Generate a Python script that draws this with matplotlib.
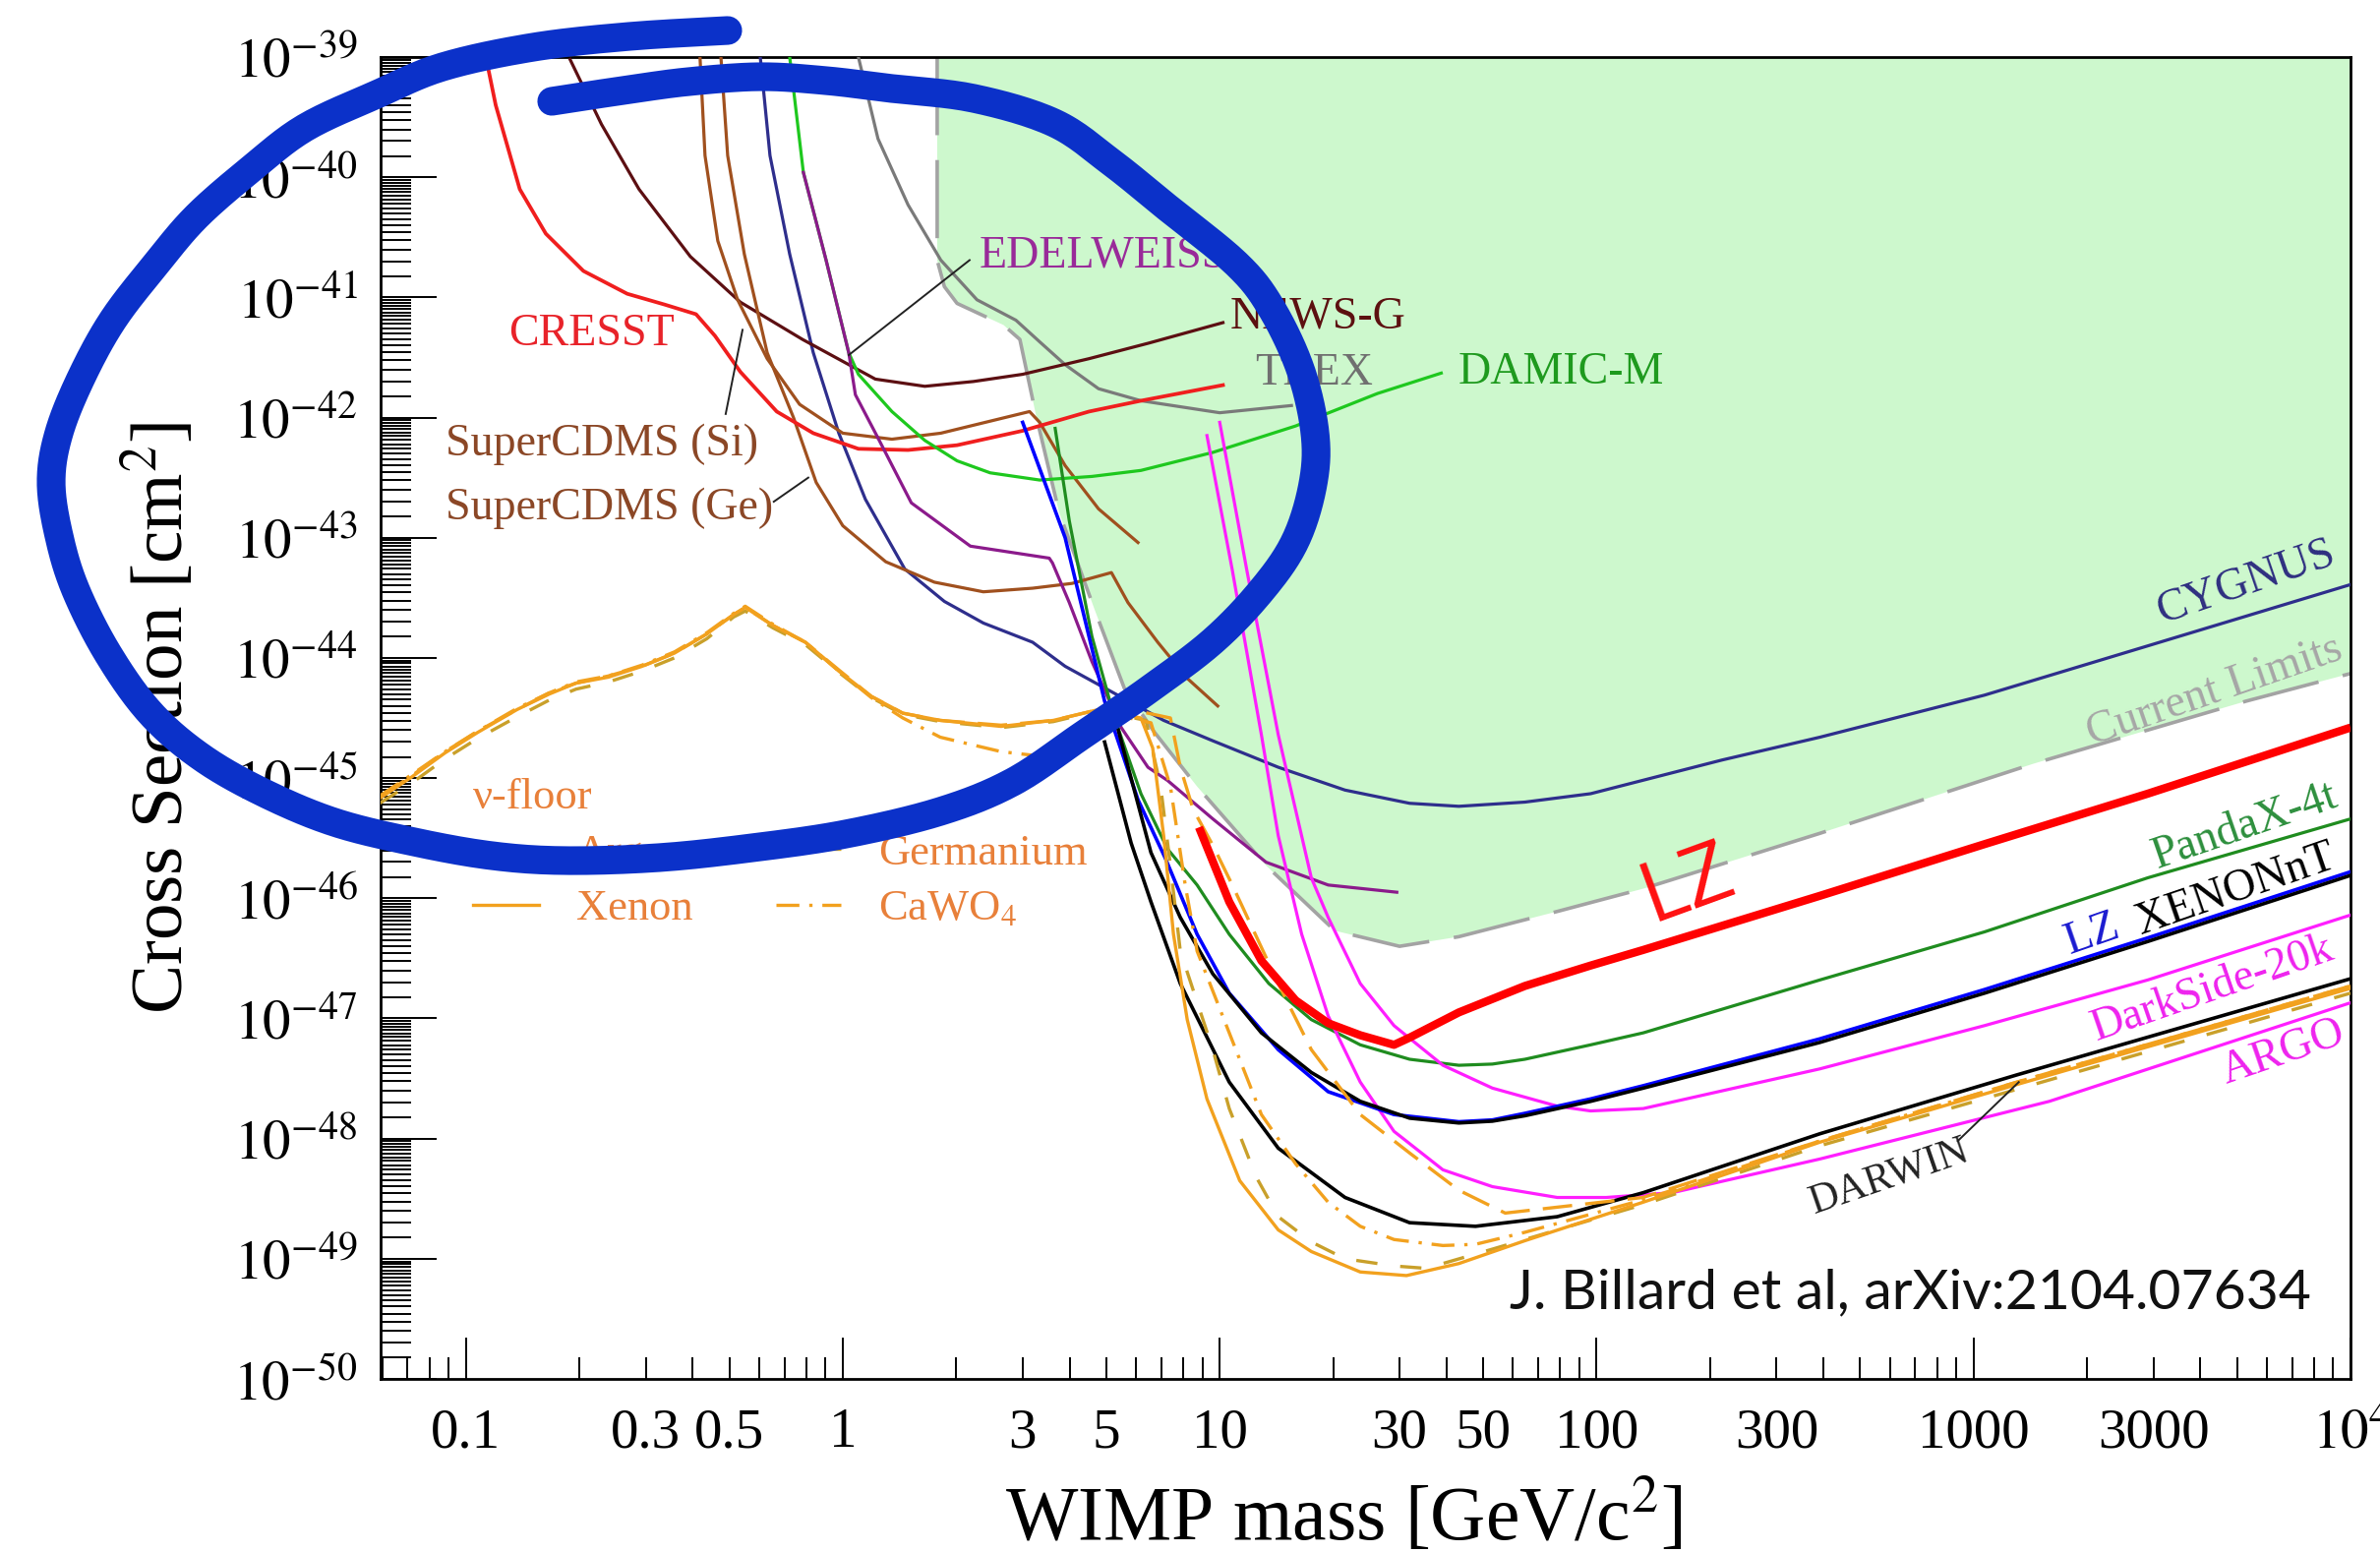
import numpy as np
import matplotlib
matplotlib.use("Agg")
import matplotlib.pyplot as plt
from matplotlib.ticker import FixedLocator, FuncFormatter, NullFormatter

plt.rcParams['font.family'] = ['Liberation Serif', 'DejaVu Serif']
plt.rcParams['mathtext.fontset'] = 'stix'

# ---------------- data: WIMP mass [GeV/c^2], log10(cross section [cm^2]) ----------------
current_m = [1.78, 1.78, 1.86, 2.01, 2.67, 2.95, 3.25, 3.75, 4.66, 5.58, 6.68, 8.71, 13.3, 20.2, 30.0, 43.1, 78.6, 133, 391, 1443, 5284, 10000]
current_ls = [-39.0, -40.69, -40.91, -41.05, -41.23, -41.35, -41.97, -42.79, -43.60, -44.25, -44.61, -45.07, -45.73, -46.27, -46.40, -46.32, -46.11, -45.92, -45.46, -44.88, -44.36, -44.13]

cresst_m = [0.113, 0.120, 0.139, 0.163, 0.205, 0.268, 0.337, 0.408, 0.458, 0.535, 0.668, 0.835, 1.10, 1.49, 2.01, 3.00, 4.50, 6.18, 10.2]
cresst_ls = [-39.0, -39.40, -40.10, -40.47, -40.78, -40.97, -41.06, -41.14, -41.32, -41.62, -41.95, -42.13, -42.26, -42.27, -42.23, -42.11, -41.95, -41.86, -41.73]

newsg_m = [0.189, 0.229, 0.288, 0.394, 0.535, 0.782, 1.22, 1.65, 2.22, 3.00, 4.50, 6.49, 10.2]
newsg_ls = [-39.02, -39.56, -40.10, -40.66, -41.04, -41.35, -41.68, -41.74, -41.70, -41.64, -41.51, -41.38, -41.21]

cdms_si_m = [0.418, 0.431, 0.466, 0.526, 0.630, 0.768, 1.00, 1.35, 1.82, 2.46, 3.13, 3.33, 3.89, 4.77, 6.07]
cdms_si_ls = [-39.0, -39.82, -40.53, -41.02, -41.51, -41.89, -42.13, -42.18, -42.13, -42.03, -41.95, -42.04, -42.40, -42.76, -43.04]

cdms_ge_m = [0.475, 0.495, 0.548, 0.630, 0.740, 0.850, 1.00, 1.30, 1.75, 2.36, 3.19, 4.06, 5.16, 5.71, 6.85, 8.20, 9.88]
cdms_ge_ls = [-39.0, -39.82, -40.64, -41.46, -42.00, -42.54, -42.90, -43.20, -43.37, -43.45, -43.42, -43.38, -43.29, -43.54, -43.87, -44.17, -44.40]

cygnus_m = [0.604, 0.641, 0.723, 0.835, 0.976, 1.148, 1.46, 1.86, 2.36, 3.19, 3.89, 4.95, 7.10, 9.59, 14.3, 21.5, 31.9, 43.1, 64.5, 96.4, 215, 391, 1069, 2898, 10000]
cygnus_ls = [-39.0, -39.82, -40.64, -41.46, -42.13, -42.68, -43.26, -43.53, -43.71, -43.87, -44.07, -44.25, -44.52, -44.69, -44.91, -45.10, -45.21, -45.235, -45.20, -45.13, -44.85, -44.66, -44.31, -43.90, -43.39]

edelweiss_m = [0.786, 0.903, 1.037, 1.08, 1.24, 1.52, 2.18, 3.53, 3.60, 3.99, 4.58, 5.48, 6.45, 7.27, 9.59, 13.27, 19.4, 29.5]
edelweiss_ls = [-39.96, -40.69, -41.46, -41.81, -42.17, -42.71, -43.07, -43.17, -43.21, -43.54, -44.03, -44.58, -44.91, -45.02, -45.34, -45.70, -45.89, -45.95]

damic_m = [0.723, 0.786, 0.903, 1.037, 1.10, 1.35, 1.65, 2.01, 2.46, 3.33, 4.58, 6.18, 9.59, 15.9, 26.2, 38.7]
damic_ls = [-39.0, -39.96, -40.69, -41.46, -41.64, -41.95, -42.19, -42.36, -42.46, -42.52, -42.49, -42.44, -42.29, -42.07, -41.80, -41.63]

trex_m = [1.10, 1.24, 1.49, 1.82, 2.27, 2.88, 3.33, 3.89, 4.77, 6.18, 10.0, 15.5]
trex_ls = [-39.0, -39.68, -40.23, -40.69, -41.02, -41.19, -41.37, -41.56, -41.76, -41.86, -41.96, -41.90]

lzproj_m = [3.00, 3.89, 4.95, 6.07, 7.18, 8.71, 10.6, 14.3, 19.4, 29.0, 43.1, 52.9, 64.5, 96.4, 133, 391, 1069, 2898, 10000]
lzproj_ls = [-42.04, -43.00, -44.36, -45.18, -45.67, -46.30, -46.79, -47.26, -47.61, -47.80, -47.86, -47.845, -47.79, -47.67, -47.56, -47.17, -46.76, -46.33, -45.78]

xenonnt_m = [5.38, 6.57, 7.86, 9.59, 12.9, 17.5, 23.6, 31.9, 43.1, 52.9, 64.5, 96.4, 133, 391, 1069, 2898, 10000]
xenonnt_ls = [-44.60, -45.62, -46.16, -46.63, -47.12, -47.45, -47.69, -47.83, -47.87, -47.855, -47.81, -47.69, -47.58, -47.20, -46.79, -46.36, -45.81]

darwin_m = [4.95, 5.82, 6.57, 7.86, 10.6, 14.3, 21.5, 31.9, 47.7, 78.6, 133, 391, 1303, 10000]
darwin_ls = [-44.70, -45.54, -46.03, -46.71, -47.53, -48.08, -48.49, -48.70, -48.73, -48.65, -48.45, -47.96, -47.47, -46.67]

pandax_m = [3.66, 3.99, 4.58, 5.26, 6.18, 7.27, 8.71, 10.6, 13.5, 17.5, 23.6, 31.9, 43.1, 52.9, 64.5, 96.4, 133, 391, 1069, 2898, 10000]
pandax_ls = [-42.09, -42.86, -43.82, -44.50, -45.13, -45.59, -45.89, -46.30, -46.71, -47.01, -47.22, -47.34, -47.39, -47.38, -47.34, -47.22, -47.12, -46.68, -46.28, -45.83, -45.34]

darkside_m = [10.0, 11.8, 14.3, 17.5, 19.4, 23.6, 29.0, 39.1, 52.9, 78.6, 96.4, 133, 391, 1069, 2898, 10000]
darkside_ls = [-42.04, -43.27, -44.64, -45.83, -46.16, -46.71, -47.06, -47.39, -47.58, -47.73, -47.77, -47.75, -47.42, -47.06, -46.68, -46.14]

argo_m = [9.25, 10.8, 12.9, 14.3, 16.5, 19.4, 23.6, 29.0, 39.1, 52.9, 78.6, 106, 159, 391, 1589, 10000]
argo_ls = [-42.15, -43.27, -44.64, -45.48, -46.30, -46.98, -47.53, -47.94, -48.26, -48.40, -48.49, -48.49, -48.45, -48.17, -47.69, -46.87]

lz_m = [8.81, 10.6, 12.9, 15.9, 19.4, 23.6, 29.0, 31.9, 43.1, 64.5, 96.4, 133, 391, 1069, 2898, 10000]
lz_ls = [-45.41, -46.03, -46.52, -46.85, -47.04, -47.14, -47.22, -47.16, -46.95, -46.73, -46.56, -46.43, -45.98, -45.55, -45.13, -44.58]

# neutrino floors
floor_low_m = [0.059, 0.0719, 0.0881, 0.1075, 0.1367, 0.1667, 0.196, 0.239, 0.2934, 0.3577, 0.436, 0.513, 0.551, 0.6526, 0.796, 0.976, 1.19, 1.443, 1.814, 2.63, 3.62, 4.77]
xe_m = floor_low_m + [6.18, 6.64, 7.10, 7.54, 8.20, 9.25, 11.3, 14.3, 17.5, 23.6, 31.3, 43.1, 64.5, 132.7, 391, 1303, 10000]
xe_ls = [-45.17, -44.99, -44.79, -44.62, -44.43, -44.30, -44.21, -44.16, -44.07, -43.96, -43.80, -43.64, -43.58, -43.73, -43.87, -44.11, -44.32, -44.46, -44.52, -44.57, -44.52, -44.43,
         -44.50, -44.75, -45.48, -46.30, -47.01, -47.67, -48.35, -48.76, -48.94, -49.11, -49.14, -49.04, -48.85, -48.53, -48.03, -47.55, -46.75]
ge_m = floor_low_m + [6.37, 6.97, 7.40, 7.86, 9.59, 10.6, 12.5, 14.3, 17.5, 21.5, 29.0, 35.3, 52.9, 78.6, 132.7, 391, 1303, 10000]
ge_ls = [-45.21, -45.04, -44.84, -44.67, -44.49, -44.35, -44.26, -44.20, -44.11, -44.00, -43.84, -43.66, -43.61, -43.75, -43.89, -44.12, -44.33, -44.47, -44.53, -44.58, -44.53, -44.44,
         -44.52, -45.07, -45.73, -46.44, -47.26, -47.75, -48.32, -48.65, -48.86, -49.00, -49.06, -49.08, -48.92, -48.76, -48.55, -48.06, -47.59, -46.79]
cawo_m = floor_low_m[:18] + [1.814, 2.63, 3.62, 5.04, 6.57, 7.40, 8.10, 8.71, 10.6, 12.9, 15.9, 19.4, 23.6, 29.0, 39.1, 47.7, 64.5, 132.7, 391, 1303, 10000]
cawo_ls = [-45.15, -44.97, -44.78, -44.61, -44.42, -44.29, -44.20, -44.15, -44.06, -43.95, -43.79, -43.63, -43.57, -43.72, -43.87, -44.11, -44.33, -44.50,
           -44.66, -44.78, -44.83, -44.46, -44.54, -45.07, -45.89, -46.44, -47.12, -47.80, -48.21, -48.53, -48.73, -48.84, -48.89, -48.88, -48.78, -48.51, -48.02, -47.53, -46.73]
ar_m = floor_low_m + [5.82, 7.40, 7.86, 8.50, 9.59, 10.8, 14.3, 17.5, 23.6, 31.9, 43.1, 57.2, 132.7, 391, 1303, 10000]
ar_ls = [-45.16, -44.98, -44.78, -44.61, -44.43, -44.29, -44.21, -44.15, -44.07, -43.96, -43.80, -43.64, -43.58, -43.73, -43.87, -44.10, -44.32, -44.46, -44.52, -44.56, -44.52, -44.43,
         -44.43, -44.50, -44.91, -45.26, -45.56, -45.89, -46.71, -47.26, -47.80, -48.12, -48.43, -48.62, -48.49, -48.02, -47.53, -46.73]

# label pointers (mass, log10 sigma) pairs
ptr_edel = ([2.17, 1.037], [-40.69, -41.48])
ptr_si = ([0.489, 0.542], [-41.97, -41.27])
ptr_ge = ([0.656, 0.810], [-42.70, -42.50])
ptr_darwin = ([908, 1318], [-48.02, -47.53])

xtick_major = [0.1, 1, 10, 100, 1000, 10000]
xtick_labelled = [0.1, 0.3, 0.5, 1, 3, 5, 10, 30, 50, 100, 300, 1000, 3000]
ytick_exp = list(range(-50, -38))


def S(v):
    return 10.0 ** np.asarray(v, dtype=float)


fig = plt.figure(figsize=(24.2, 15.79), dpi=100)
ax = fig.add_axes([387 / 2420, 177 / 1579, 2003 / 2420, 1344 / 1579])
ax.set_xscale('log')
ax.set_yscale('log')
ax.set_xlim(10 ** (-470 / 383.3), 1e4)
ax.set_ylim(1e-50, 1e-39)

# shaded current limits
cm = np.asarray(current_m, float)
cs = S(current_ls)
ax.fill(np.r_[cm, cm[-1], cm[0]], np.r_[cs, 1e-39, 1e-39], color='#cdf8cd', lw=0, zorder=0)
ax.plot(cm, cs, color='#a3a3a3', lw=2.6, dashes=(22, 7), zorder=2)

lw = 2.3
ax.plot(trex_m, S(trex_ls), color='#7a7a7a', lw=lw, zorder=3)
ax.plot(cygnus_m, S(cygnus_ls), color='#2e2e8c', lw=lw, zorder=3)
ax.plot(newsg_m, S(newsg_ls), color='#5c0f12', lw=lw, zorder=3)
ax.plot(cdms_si_m, S(cdms_si_ls), color='#a0501e', lw=lw, zorder=3)
ax.plot(cdms_ge_m, S(cdms_ge_ls), color='#a0501e', lw=lw, zorder=3)
ax.plot(cresst_m, S(cresst_ls), color='#f01e1e', lw=lw + 0.4, zorder=3)
ax.plot(damic_m, S(damic_ls), color='#1ec81e', lw=lw, zorder=3)
ax.plot(edelweiss_m, S(edelweiss_ls), color='#8b1a8b', lw=lw, zorder=3)
ax.plot(pandax_m, S(pandax_ls), color='#1f8c1f', lw=lw, zorder=3)
ax.plot(argo_m, S(argo_ls), color='#ff1eff', lw=lw, zorder=3)
ax.plot(darkside_m, S(darkside_ls), color='#ff1eff', lw=lw, zorder=3)
ax.plot(darwin_m, S(darwin_ls), color='black', lw=lw + 0.3, zorder=3)
ax.plot(lzproj_m, S(lzproj_ls), color='#0000ff', lw=lw + 0.3, zorder=3)
ax.plot(xenonnt_m, S(xenonnt_ls), color='black', lw=lw + 0.3, zorder=3)

orange = '#f2a11e'
h_ar, = ax.plot(ar_m, S(ar_ls), color=orange, lw=2.4, dashes=(9, 4), zorder=4, label='Argon')
h_ge, = ax.plot(ge_m, S(ge_ls), color='#c9a02a', lw=2.4, dashes=(6.5, 7), zorder=4, label='Germanium')
h_ca, = ax.plot(cawo_m, S(cawo_ls), color=orange, lw=2.4, dashes=(7, 3, 1, 3), zorder=4, label='CaWO$_4$')
h_xe, = ax.plot(xe_m, S(xe_ls), color=orange, lw=2.4, zorder=4, label='Xenon')

ax.plot(lz_m, S(lz_ls), color='#ff0000', lw=6.0, zorder=5, solid_capstyle='butt')

# pointers
for px, py in (ptr_edel, ptr_si, ptr_ge, ptr_darwin):
    ax.plot(px, S(py), color='#222222', lw=1.4, zorder=5)

# labels
lab = dict(transform=ax.transAxes, fontsize=33, zorder=6)
ax.text(0.0649, 0.790, 'CRESST', color='#e8232a', ha='left', va='center', **lab)
ax.text(0.033, 0.707, 'SuperCDMS (Si)', color='#8b4726', ha='left', va='center', **lab)
ax.text(0.033, 0.6585, 'SuperCDMS (Ge)', color='#8b4726', ha='left', va='center', **lab)
ax.text(0.304, 0.8497, 'EDELWEISS', color='#992a99', ha='left', va='center', **lab)
ax.text(0.4313, 0.8036, 'NEWS-G', color='#5c1010', ha='left', va='center', **lab)
ax.text(0.4438, 0.7604, 'TREX', color='#707070', ha='left', va='center', **lab)
ax.text(0.5472, 0.761, 'DAMIC-M', color='#1e9a1e', ha='left', va='center', **lab)
rot = dict(ha='center', va='center', rotation=19, rotation_mode='anchor')
ax.text(0.947, 0.602, 'CYGNUS', color='#2e2e80', **rot, **lab)
ax.text(0.931, 0.520, 'Current Limits', color='#a6a6a6', **rot, **lab)
ax.text(0.9466, 0.418, 'PandaX-4t', color='#2d8f3d', **rot, **lab)
ax.text(0.942, 0.370, 'XENONnT', color='black', **rot, **lab)
ax.text(0.869, 0.336, 'LZ', color='#1a1ad0', **rot, **lab)
ax.text(0.930, 0.295, 'DarkSide-20k', color='#ee22ee', **rot, **lab)
ax.text(0.9655, 0.247, 'ARGO', color='#ee22ee', **rot, **lab)
lab2 = dict(lab); lab2['fontsize'] = 30
ax.text(0.766, 0.153, 'DARWIN', color='#222222', **rot, **lab2)

leg = ax.legend(handles=[h_ar, h_xe, h_ge, h_ca], ncol=2, title='\u03bd-floor', loc='upper left',
                bbox_to_anchor=(0.047, 0.4545), frameon=False, fontsize=32, title_fontsize=32,
                handlelength=1.5, handletextpad=0.85, columnspacing=1.9, labelspacing=0.37,
                borderpad=0, borderaxespad=0, alignment='left', labelcolor='#e8803a')
leg.get_title().set_color('#e8803a')
leg.set_zorder(6)

# axes styling
for sp in ax.spines.values():
    sp.set_linewidth(2.0)
ax.xaxis.set_major_locator(FixedLocator(xtick_major))
minor_x = [k * 10.0 ** e for e in range(-2, 4) for k in range(2, 10)]
ax.xaxis.set_minor_locator(FixedLocator(minor_x))


def xfmt(v, pos=None):
    if abs(v - 1e4) < 1:
        return r'$10^{4}$'
    for t in xtick_labelled:
        if abs(v - t) < 1e-6 * t:
            return ('%g' % t)
    return ''


ax.xaxis.set_major_formatter(FuncFormatter(xfmt))
ax.xaxis.set_minor_formatter(FuncFormatter(xfmt))
ax.yaxis.set_major_locator(FixedLocator([10.0 ** e for e in ytick_exp]))
minor_y = [k * 10.0 ** e for e in range(-50, -39) for k in np.arange(1.5, 10, 0.5)]
ax.yaxis.set_minor_locator(FixedLocator(minor_y))
ax.yaxis.set_major_formatter(FuncFormatter(lambda v, p: r'$10^{%d}$' % int(round(np.log10(v)))))
ax.yaxis.set_minor_formatter(NullFormatter())
ax.tick_params(which='both', direction='in', top=False, right=False, width=1.4)
ax.tick_params(axis='x', which='major', length=30, pad=21, labelsize=41)
ax.tick_params(axis='x', which='minor', length=16, pad=21, labelsize=41)
ax.tick_params(axis='y', which='major', length=41, pad=17, labelsize=41)
ax.tick_params(axis='y', which='minor', length=22)

ax.set_xlabel('WIMP mass [GeV/c$^2$]', fontsize=56)
ax.set_ylabel('Cross Section [cm$^2$]', fontsize=54)
ax.xaxis.set_label_coords(0.4888, -0.076)
ax.yaxis.set_label_coords(-0.092, 0.5)

# ---------------- hand-drawn overlay ----------------
ov = fig.add_axes([0, 0, 1, 1], zorder=10)
ov.set_xlim(0, 2420)
ov.set_ylim(1579, 0)
ov.axis('off')
ov.patch.set_alpha(0)

stroke = [(740, 31), (640, 37), (542, 48), (450, 68), (383, 96), (310, 130), (255, 172), (200, 220), (159, 268),
          (115, 325), (83, 383), (60, 440), (52, 490), (60, 545), (77, 600), (110, 665), (153, 725), (205, 770),
          (268, 806), (340, 836), (421, 856), (500, 870), (574, 875), (670, 872), (765, 862), (860, 848),
          (956, 825), (1030, 795), (1100, 748), (1167, 702), (1233, 652), (1283, 600), (1317, 550), (1335, 492),
          (1337, 440), (1322, 375), (1292, 312), (1257, 268), (1187, 211), (1130, 165), (1072, 125), (990, 100),
          (907, 90), (840, 82), (773, 78), (700, 83), (640, 91), (600, 97), (561, 103)]


def catmull(P, n=16):
    P = np.asarray(P, float)
    P = np.vstack([P[0], P, P[-1]])
    out = []
    t = np.linspace(0, 1, n, endpoint=False)[:, None]
    for i in range(1, len(P) - 2):
        p0, p1, p2, p3 = P[i - 1], P[i], P[i + 1], P[i + 2]
        out.append(0.5 * (2 * p1 + (-p0 + p2) * t + (2 * p0 - 5 * p1 + 4 * p2 - p3) * t ** 2
                          + (-p0 + 3 * p1 - 3 * p2 + p3) * t ** 3))
    out.append(P[-2][None])
    return np.vstack(out)


cur = catmull(stroke)
ov.plot(cur[:, 0], cur[:, 1], color='#0b31c9', lw=21, solid_capstyle='round', solid_joinstyle='round')

ov.text(1716, 900, 'LZ', color='#ff1010', fontsize=62, family='Open Sans', rotation=20,
        ha='center', va='center')
ov.text(1535, 1315, 'J. Billard et al, arXiv:2104.07634', color='#111111', fontsize=41,
        family='Lato', ha='left', va='center')

fig.savefig('out.png', dpi=100)
